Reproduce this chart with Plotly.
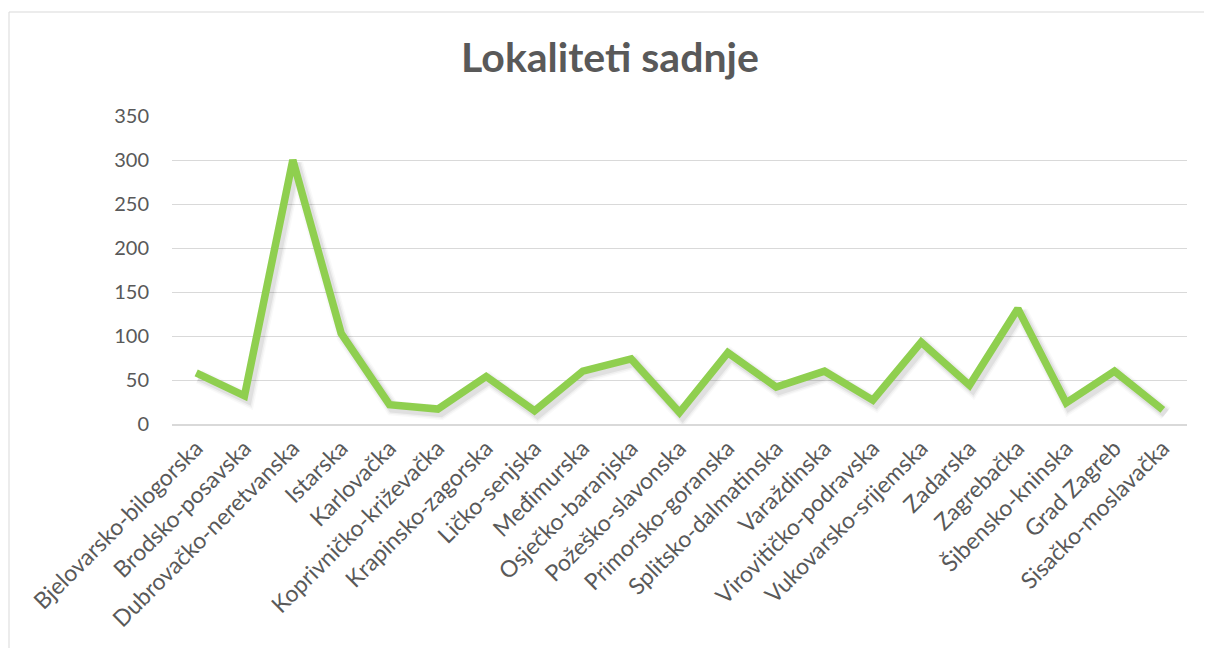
import plotly.graph_objects as go

categories = [
    "Bjelovarsko-bilogorska", "Brodsko-posavska", "Dubrovačko-neretvanska",
    "Istarska", "Karlovačka", "Koprivničko-križevačka", "Krapinsko-zagorska",
    "Ličko-senjska", "Međimurska", "Osječko-baranjska", "Požeško-slavonska",
    "Primorsko-goranska", "Splitsko-dalmatinska", "Varaždinska",
    "Virovitičko-podravska", "Vukovarsko-srijemska", "Zadarska", "Zagrebačka",
    "Šibensko-kninska", "Grad Zagreb", "Sisačko-moslavačka",
]
values = [58, 32, 300, 103, 22, 17, 54, 15, 60, 74, 13, 81, 42, 60, 27, 93, 44, 131, 24, 60, 16]

y_ticks = [0, 50, 100, 150, 200, 250, 300, 350]

# page body has an 8px margin, so the figure is sized/placed to compensate
W, H = 1204, 640
L, R, T, B = 164, 25, 108, 224
pw, ph = W - L - R, H - T - B
n = len(categories)

# soft drop shadow: same data drawn on overlay axes whose ranges are nudged
sx = 3.0 / (pw / n)          # ~3px to the right
sy = 3.5 * 350.0 / ph        # ~3.5px down

fig = go.Figure()
# invisible trace to anchor the main (tick/grid) axes
fig.add_trace(go.Scatter(
    x=categories, y=values, mode="lines", line=dict(width=0, color="rgba(0,0,0,0)"),
    hoverinfo="skip", showlegend=False,
))
for w, a in [(15, 0.025), (12, 0.04), (9, 0.06)]:
    fig.add_trace(go.Scatter(
        x=categories, y=values, mode="lines", xaxis="x2", yaxis="y2",
        line=dict(color=f"rgba(0,0,0,{a})", width=w),
        hoverinfo="skip", showlegend=False,
    ))
fig.add_trace(go.Scatter(
    x=categories, y=values, mode="lines", xaxis="x3", yaxis="y3",
    line=dict(color="#8FCF4F", width=7.5),
    hoverinfo="x+y", showlegend=False,
))

font_fam = "Lato, 'Open Sans', sans-serif"
fig.update_layout(
    width=W, height=H,
    margin=dict(l=L, r=R, t=T, b=B),
    paper_bgcolor="white", plot_bgcolor="white",
    font=dict(family=font_fam, color="#595959", size=20),
    title=dict(
        text="<b>Lokaliteti sadnje</b>",
        x=0.5, xanchor="center", xref="container",
        y=1 - 50 / H, yanchor="middle",
        font=dict(size=41, color="#595959", family=font_fam),
    ),
    xaxis=dict(
        type="category", tickangle=-45, showgrid=False,
        showline=True, linecolor="#D9D9D9", linewidth=1.5,
        ticks="", tickfont=dict(size=23, color="#595959"),
        range=[-0.5, n - 0.5],
    ),
    xaxis2=dict(
        type="category", overlaying="x", visible=False,
        range=[-0.5 - sx, n - 0.5 - sx],
    ),
    xaxis3=dict(
        type="category", overlaying="x", visible=False,
        range=[-0.5, n - 0.5],
    ),
    yaxis=dict(
        range=[0, 350], tickvals=y_ticks, ticktext=[str(v) for v in y_ticks],
        showgrid=True, gridcolor="#D9D9D9", gridwidth=1,
        zeroline=False, showline=False, ticks="",
        ticklabelstandoff=22,
        tickfont=dict(size=20, color="#595959"),
    ),
    yaxis2=dict(overlaying="y", visible=False, range=[sy, 350 + sy]),
    yaxis3=dict(overlaying="y", visible=False, range=[0, 350]),
    shapes=[dict(
        type="rect", xref="paper", yref="paper",
        x0=(1 - L) / pw, x1=1.2, y0=-2, y1=(H - B - 4) / ph,
        line=dict(color="#D9D9D9", width=1), fillcolor="rgba(0,0,0,0)", layer="below",
    )],
)

fig.write_html("out.html")
